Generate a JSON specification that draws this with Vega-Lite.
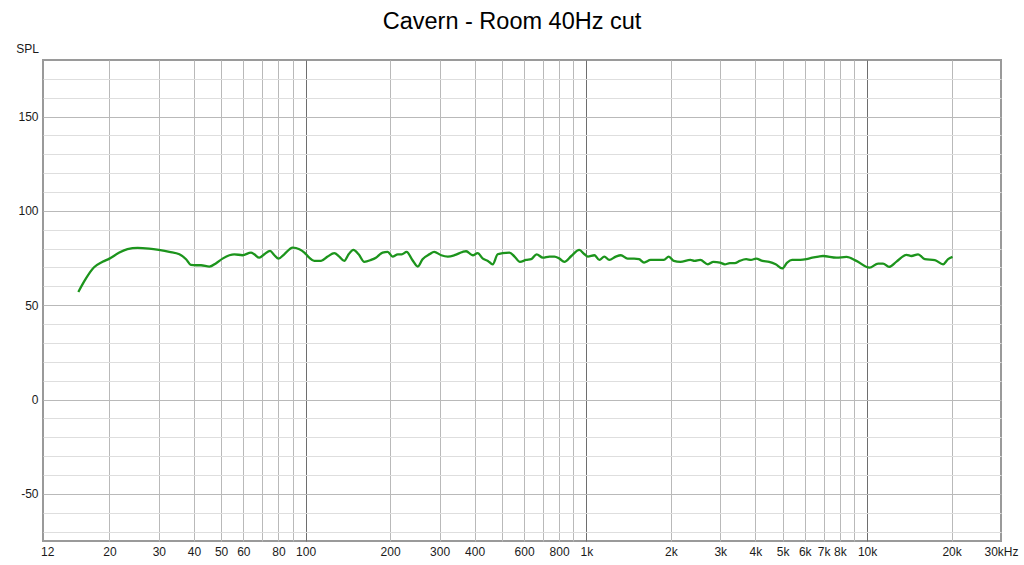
{
  "$schema": "https://vega.github.io/schema/vega-lite/v6.json",
  "width": 958,
  "height": 481,
  "autosize": {"type": "none"},
  "padding": {"left": 43, "top": 60, "right": 23, "bottom": 24},
  "background": "white",
  "title": {"text": "Cavern - Room 40Hz cut", "fontSize": 23.5, "font": "Liberation Sans", "fontWeight": "normal", "color": "#000000", "anchor": "middle", "offset": 9, "dx": -10},
  "config": {
    "view": {"stroke": "#9a9a9a", "strokeWidth": 2},
    "axis": {"labelFont": "Liberation Sans", "titleFont": "Liberation Sans", "domain": false, "ticks": false}
  },
  "data": {"values": [
    {"freq": 15.5, "spl": 57.0},
    {"freq": 16.3, "spl": 62.9},
    {"freq": 17.6, "spl": 70.0},
    {"freq": 18.9, "spl": 73.0},
    {"freq": 20.0, "spl": 74.7},
    {"freq": 21.7, "spl": 77.9},
    {"freq": 23.2, "spl": 79.7},
    {"freq": 25.2, "spl": 80.4},
    {"freq": 27.7, "spl": 80.0},
    {"freq": 30.0, "spl": 79.3},
    {"freq": 32.7, "spl": 78.3},
    {"freq": 35.5, "spl": 77.0},
    {"freq": 37.5, "spl": 74.4},
    {"freq": 39.0, "spl": 71.4},
    {"freq": 40.8, "spl": 71.2},
    {"freq": 42.4, "spl": 71.2},
    {"freq": 45.4, "spl": 70.5},
    {"freq": 48.0, "spl": 72.3},
    {"freq": 50.6, "spl": 74.7},
    {"freq": 53.5, "spl": 76.5},
    {"freq": 55.7, "spl": 77.0},
    {"freq": 59.6, "spl": 76.5},
    {"freq": 63.9, "spl": 77.9},
    {"freq": 65.6, "spl": 77.0},
    {"freq": 68.4, "spl": 75.2},
    {"freq": 71.3, "spl": 77.0},
    {"freq": 74.7, "spl": 78.8},
    {"freq": 77.4, "spl": 76.5},
    {"freq": 80.1, "spl": 74.7},
    {"freq": 83.9, "spl": 77.0},
    {"freq": 89.9, "spl": 80.5},
    {"freq": 95, "spl": 79.7},
    {"freq": 99, "spl": 77.9},
    {"freq": 103, "spl": 75.2},
    {"freq": 107.4, "spl": 73.5},
    {"freq": 113.5, "spl": 73.5},
    {"freq": 119.8, "spl": 75.8},
    {"freq": 126.5, "spl": 77.6},
    {"freq": 131.8, "spl": 75.8},
    {"freq": 137.3, "spl": 73.5},
    {"freq": 142.3, "spl": 77.0},
    {"freq": 148, "spl": 79.3},
    {"freq": 154.5, "spl": 77.0},
    {"freq": 161.8, "spl": 73.0},
    {"freq": 171, "spl": 74.0},
    {"freq": 178, "spl": 75.2},
    {"freq": 188, "spl": 77.9},
    {"freq": 196, "spl": 78.3},
    {"freq": 204, "spl": 75.8},
    {"freq": 213, "spl": 77.0},
    {"freq": 220, "spl": 77.0},
    {"freq": 229, "spl": 78.3},
    {"freq": 240, "spl": 74.0},
    {"freq": 251, "spl": 70.5},
    {"freq": 261, "spl": 74.4},
    {"freq": 276, "spl": 77.0},
    {"freq": 287, "spl": 78.3},
    {"freq": 304, "spl": 76.5},
    {"freq": 321, "spl": 75.8},
    {"freq": 339, "spl": 76.5},
    {"freq": 363, "spl": 78.3},
    {"freq": 373, "spl": 78.6},
    {"freq": 394, "spl": 76.5},
    {"freq": 410, "spl": 77.6},
    {"freq": 428, "spl": 74.7},
    {"freq": 446, "spl": 73.5},
    {"freq": 464, "spl": 71.7},
    {"freq": 483, "spl": 77.0},
    {"freq": 503, "spl": 77.6},
    {"freq": 532, "spl": 77.9},
    {"freq": 555, "spl": 75.8},
    {"freq": 580, "spl": 73.0},
    {"freq": 610, "spl": 74.0},
    {"freq": 636, "spl": 74.4},
    {"freq": 665, "spl": 77.0},
    {"freq": 700, "spl": 75.2},
    {"freq": 739, "spl": 75.8},
    {"freq": 770, "spl": 75.8},
    {"freq": 802, "spl": 74.7},
    {"freq": 835, "spl": 73.0},
    {"freq": 884, "spl": 76.1},
    {"freq": 944, "spl": 79.3},
    {"freq": 985, "spl": 77.0},
    {"freq": 1012, "spl": 75.8},
    {"freq": 1069, "spl": 76.5},
    {"freq": 1113, "spl": 74.0},
    {"freq": 1159, "spl": 75.8},
    {"freq": 1207, "spl": 74.0},
    {"freq": 1274, "spl": 75.8},
    {"freq": 1327, "spl": 76.5},
    {"freq": 1402, "spl": 74.7},
    {"freq": 1480, "spl": 74.7},
    {"freq": 1541, "spl": 74.4},
    {"freq": 1605, "spl": 72.6},
    {"freq": 1694, "spl": 74.0},
    {"freq": 1788, "spl": 74.0},
    {"freq": 1888, "spl": 74.0},
    {"freq": 1966, "spl": 75.8},
    {"freq": 2048, "spl": 73.5},
    {"freq": 2162, "spl": 73.0},
    {"freq": 2347, "spl": 74.0},
    {"freq": 2430, "spl": 73.5},
    {"freq": 2546, "spl": 74.0},
    {"freq": 2709, "spl": 71.7},
    {"freq": 2836, "spl": 73.0},
    {"freq": 2992, "spl": 72.6},
    {"freq": 3115, "spl": 71.7},
    {"freq": 3244, "spl": 72.3},
    {"freq": 3378, "spl": 72.3},
    {"freq": 3517, "spl": 73.5},
    {"freq": 3710, "spl": 74.4},
    {"freq": 3863, "spl": 74.0},
    {"freq": 4023, "spl": 74.7},
    {"freq": 4245, "spl": 73.5},
    {"freq": 4480, "spl": 73.0},
    {"freq": 4725, "spl": 71.7},
    {"freq": 4986, "spl": 69.5},
    {"freq": 5193, "spl": 72.6},
    {"freq": 5407, "spl": 74.0},
    {"freq": 5785, "spl": 74.0},
    {"freq": 6081, "spl": 74.4},
    {"freq": 6381, "spl": 75.2},
    {"freq": 6717, "spl": 75.8},
    {"freq": 6968, "spl": 76.1},
    {"freq": 7780, "spl": 75.2},
    {"freq": 8447, "spl": 75.6},
    {"freq": 9163, "spl": 73.5},
    {"freq": 10200, "spl": 69.9},
    {"freq": 10950, "spl": 72.1},
    {"freq": 11400, "spl": 72.1},
    {"freq": 11970, "spl": 70.3},
    {"freq": 12730, "spl": 73.1},
    {"freq": 13820, "spl": 76.7},
    {"freq": 14390, "spl": 76.1},
    {"freq": 15200, "spl": 77.0},
    {"freq": 16060, "spl": 74.4},
    {"freq": 17430, "spl": 73.9},
    {"freq": 18660, "spl": 71.7},
    {"freq": 19440, "spl": 74.4},
    {"freq": 20160, "spl": 75.6}
  ]},
  "mark": {"type": "line", "color": "#1c941c", "strokeWidth": 2.3, "interpolate": "monotone", "clip": true},
  "encoding": {
    "x": {
      "field": "freq", "type": "quantitative",
      "scale": {"type": "log", "domain": [11.6, 30000], "nice": false},
      "axis": {
        "title": null,
        "values": [12, 20, 30, 40, 50, 60, 70, 80, 90, 100, 200, 300, 400, 500, 600, 700, 800, 900, 1000, 2000, 3000, 4000, 5000, 6000, 7000, 8000, 9000, 10000, 20000, 30000],
        "labelExpr": "datum.value == 30000 ? '30kHz' : (datum.value == 70 || datum.value == 90 || datum.value == 500 || datum.value == 700 || datum.value == 900 || datum.value == 9000) ? '' : datum.value >= 1000 ? (datum.value / 1000) + 'k' : '' + datum.value",
        "labelFontSize": 12,
        "labelColor": "#1a1a1a",
        "labelPadding": 5,
        "labelOverlap": false,
        "labelFlush": false,
        "labelBound": false,
        "grid": true,
        "gridColor": {"condition": {"test": "datum.value == 100 || datum.value == 1000 || datum.value == 10000", "value": "#6e6e6e"}, "value": "#b9b9b9"},
        "gridOpacity": {"condition": {"test": "datum.value == 12 || datum.value == 30000", "value": 0}, "value": 1},
        "gridWidth": 1
      }
    },
    "y": {
      "field": "spl", "type": "quantitative",
      "scale": {"domain": [-75, 180], "nice": false, "zero": false},
      "axis": {
        "title": "SPL",
        "titleAngle": 0,
        "titleFontSize": 12,
        "titleFontWeight": "normal",
        "titleColor": "#1a1a1a",
        "titleAlign": "center",
        "titleBaseline": "alphabetic",
        "titleX": -16,
        "titleY": -8,
        "values": [-70, -60, -50, -40, -30, -20, -10, 0, 10, 20, 30, 40, 50, 60, 70, 80, 90, 100, 110, 120, 130, 140, 150, 160, 170],
        "labelExpr": "datum.value % 50 == 0 ? '' + datum.value : ''",
        "labelFontSize": 12,
        "labelColor": "#1a1a1a",
        "labelPadding": 5,
        "labelOverlap": false,
        "grid": true,
        "gridColor": {"condition": {"test": "datum.value % 50 == 0", "value": "#b9b9b9"}, "value": "#dedede"},
        "gridWidth": 1
      }
    }
  }
}
